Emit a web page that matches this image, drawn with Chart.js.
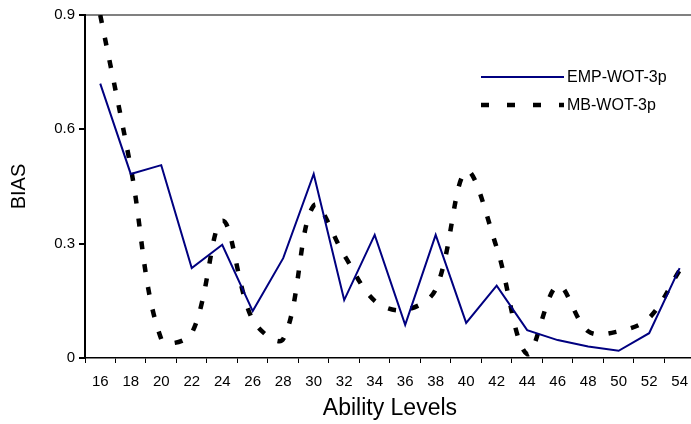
<!DOCTYPE html>
<html>
<head>
<meta charset="utf-8">
<script src="https://cdn.jsdelivr.net/npm/chart.js@4/dist/chart.umd.min.js"></script>
<style>
html,body{margin:0;padding:0;background:#fff;overflow:hidden;width:691px;height:424px;}
canvas{display:block;}
</style>
</head>
<body>
<canvas id="c" width="698" height="424"></canvas>
<script>
const categories = ['16','18','20','22','24','26','28','30','32','34','36','38','40','42','44','46','48','50','52','54'];
const empValues = [0.72,0.483,0.506,0.236,0.297,0.123,0.262,0.483,0.152,0.323,0.087,0.323,0.092,0.19,0.073,0.047,0.03,0.019,0.065,0.236];
const mbValues  = [0.9,0.5,0.05,0.065,0.36,0.1,0.05,0.4,0.27,0.15,0.126,0.18,0.49,0.29,0.01,0.19,0.07,0.07,0.105,0.23];
const seriesNames = ['EMP-WOT-3p','MB-WOT-3p'];
const yTicks = [0, 0.3, 0.6, 0.9];

const FONT = 'Arial, "Liberation Sans", sans-serif';

const legendPlugin = {
  id: 'customLegend',
  afterDraw(chart) {
    const ctx = chart.ctx;
    const items = [
      {y: 77, color: '#000080', width: 2, dash: []},
      {y: 105, color: '#000000', width: 4.5, dash: [8, 18]}
    ];
    ctx.save();
    items.forEach((it, i) => {
      ctx.beginPath();
      ctx.strokeStyle = it.color;
      ctx.lineWidth = it.width;
      ctx.setLineDash(it.dash);
      ctx.moveTo(481, it.y);
      ctx.lineTo(564, it.y);
      ctx.stroke();
      ctx.setLineDash([]);
      ctx.fillStyle = '#000';
      ctx.font = '16px ' + FONT;
      ctx.textAlign = 'left';
      ctx.textBaseline = 'middle';
      ctx.fillText(seriesNames[i], 567, it.y + 1);
    });
    ctx.restore();
  }
};

new Chart(document.getElementById('c'), {
  type: 'line',
  data: {
    labels: categories,
    datasets: [
      {label: seriesNames[0], data: empValues, borderColor: '#000080', borderWidth: 2, pointRadius: 0, tension: 0, fill: false},
      {label: seriesNames[1], data: mbValues, borderColor: '#000000', borderWidth: 4.5, borderDash: [8, 15], pointRadius: 0, tension: 0.35, fill: false, borderCapStyle: 'butt'}
    ]
  },
  options: {
    responsive: false,
    animation: false,
    devicePixelRatio: 1,
    layout: {padding: {top: 15, right: 1, left: 0, bottom: 0}},
    plugins: {legend: {display: false}, tooltip: {enabled: false}},
    scales: {
      x: {
        type: 'category',
        offset: true,
        grid: {offset: true, drawOnChartArea: false, color: '#000', tickColor: '#000', tickLength: 5, lineWidth: 1},
        border: {color: '#000', width: 1.5},
        ticks: {color: '#000', font: {family: FONT, size: 15}, padding: 10, maxRotation: 0, autoSkip: false},
        title: {display: true, text: 'Ability Levels', color: '#000', font: {family: FONT, size: 23}, padding: {top: 0, bottom: 2}},
        afterFit(s) { s.height = 66; }
      },
      y: {
        min: 0, max: 0.9,
        afterBuildTicks(s) { s.ticks = yTicks.map(v => ({value: v})); },
        grid: {
          color: c => (c.tick && c.tick.value === 0.9) ? '#808080' : 'rgba(0,0,0,0)',
          tickColor: '#000', tickLength: 6, lineWidth: 2
        },
        border: {color: '#000', width: 2},
        ticks: {color: '#000', font: {family: FONT, size: 15}, padding: 4, callback: v => String(v)},
        title: {display: true, text: 'BIAS', color: '#000', font: {family: FONT, size: 20}, padding: {top: 7, bottom: 0}},
        afterFit(s) { s.width = 85; }
      }
    }
  },
  plugins: [legendPlugin]
});
</script>
</body>
</html>
